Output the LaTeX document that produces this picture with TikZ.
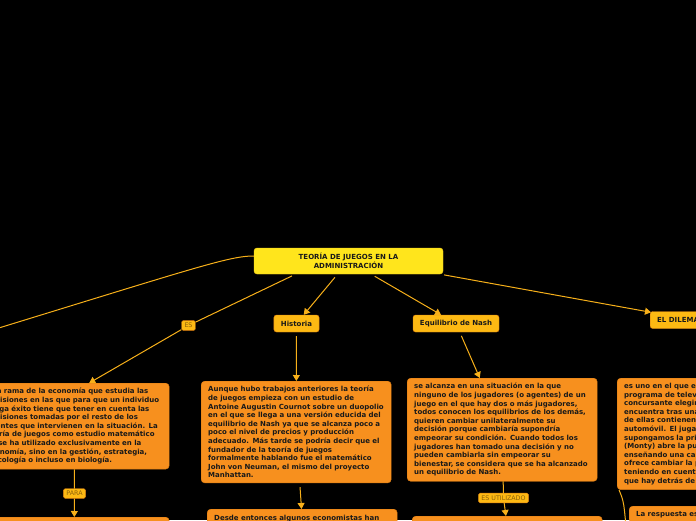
\documentclass[tikz,border=0pt]{standalone}
\usepackage{fontspec}
\setmainfont{DejaVu Sans}
\usetikzlibrary{arrows.meta}
\definecolor{rootcol}{HTML}{FFE51C}
\definecolor{topiccol}{HTML}{FDB913}
\definecolor{notecol}{HTML}{F7901E}
\definecolor{linecol}{HTML}{F7B01A}
\definecolor{lblcol}{HTML}{8A600A}
\definecolor{edgecol}{HTML}{D97A12}

\begin{document}
\begin{tikzpicture}[x=1pt,y=-1pt,
  rootbox/.style={draw=rootcol!80!edgecol,fill=rootcol,rounded corners=3pt,minimum width=189pt,minimum height=26pt,align=center,font=\fontsize{7}{9}\selectfont\bfseries,text=black!90,inner sep=2pt},
  topic/.style={draw=edgecol,fill=topiccol,rounded corners=2.5pt,minimum height=17pt,inner xsep=7pt,font=\fontsize{7}{8.6}\selectfont\bfseries,text=black!90},
  note/.style={draw=edgecol,fill=notecol,rounded corners=3.5pt,text width=176pt,inner xsep=7pt,inner ysep=5pt,align=left,font=\fontsize{7}{8.6}\selectfont\bfseries,text=black!90,anchor=north west},
  lbl/.style={draw=edgecol,fill=topiccol,rounded corners=1.5pt,inner xsep=3pt,inner ysep=2.5pt,font=\fontsize{6.3}{7}\selectfont,text=lblcol},
  conn/.style={draw=linecol,line width=1pt},
  arr/.style={conn,-{Triangle[length=6pt,width=7pt]},shorten <=4pt}]
  \useasboundingbox (0,0) rectangle (696,520);
  \fill[black] (0,0) rectangle (696,520);
  \clip (0,0) rectangle (696,520);

  % centre and first level
  \node[rootbox] (root) at (348.5,261) {TEORÍA DE JUEGOS EN LA\\ADMINISTRACIÓN};
  \node[topic] (hist) at (296.5,323.5) {Historia};
  \node[topic] (nash) at (456,323.5) {Equilibrio de Nash};
  \node[topic,anchor=west] (dilema) at (650,320) {EL DILEMA DE MONTY HALL};

  % texts
  \node[note] (esbox) at (-21,383) {Una rama de la economía que estudia las\\decisiones en las que para que un individuo\\tenga éxito tiene que tener en cuenta las\\decisiones tomadas por el resto de los\\agentes que intervienen en la situación. La\\teoría de juegos como estudio matemático\\no se ha utilizado exclusivamente en la\\economía, sino en la gestión, estrategia,\\psicología o incluso en biología.};
  \node[note] (histtxt) at (201,381) {Aunque hubo trabajos anteriores la teoría\\de juegos empieza con un estudio de\\Antoine Augustin Cournot sobre un duopolio\\en el que se llega a una versión educida del\\equilibrio de Nash ya que se alcanza poco a\\poco el nivel de precios y producción\\adecuado. Más tarde se podría decir que el\\fundador de la teoría de juegos\\formalmente hablando fue el matemático\\John von Neuman, el mismo del proyecto\\Manhattan.};
  \node[note] (nashtxt) at (407,378) {se alcanza en una situación en la que\\ninguno de los jugadores (o agentes) de un\\juego en el que hay dos o más jugadores,\\todos conocen los equilibrios de los demás,\\quieren cambiar unilateralmente su\\decisión porque cambiaría supondría\\empeorar su condición. Cuando todos los\\jugadores han tomado una decisión y no\\pueden cambiarla sin empeorar su\\bienestar, se considera que se ha alcanzado\\un equilibrio de Nash.};
  \node[note] (montytxt) at (617,378) {es uno en el que en un\\programa de televisión\\concursante elegirá\\encuentra tras una\\de ellas contienen\\automóvil. El jugador\\supongamos la primera\\(Monty) abre la puerta\\enseñando una cabra\\ofrece cambiar la puerta\\teniendo en cuenta\\que hay detrás de};

  % lower level
  \node[note] (paratxt) at (-21,517) {\strut};
  \node[note,inner ysep=6pt] (desde) at (207,509) {Desde entonces algunos economistas han};
  \node[note] (usotxt) at (412,516) {\strut};
  \node[note] (resp) at (629,506) {La respuesta es};

  % link labels
  \node[lbl] (es) at (188.5,325.5) {ES};
  \node[lbl] (para) at (74.5,493.5) {PARA};
  \node[lbl] (uso) at (503.5,498) {ES UTILIZADO};

  \coordinate (offleft) at (-60,346);
  \coordinate (offbottom) at (627,540);

  \draw[conn] ([yshift=5pt]root.west) .. controls (228,256) and (195,268) .. (offleft);
  \draw[conn,shorten <=4pt] (root.-166) -- (es);
  \draw[arr,shorten <=0pt] (es) -- ([xshift=15pt]esbox.north);
  \draw[arr] (root) -- (hist);
  \draw[arr] (root) -- (nash);
  \draw[arr] ([xshift=-3pt]root.south east) -- ([xshift=1pt,yshift=-1pt]dilema.north west);
  \draw[arr] (hist) -- (histtxt);
  \draw[arr] (nash) -- (nashtxt);
  \draw[conn] (esbox) -- (para);
  \draw[arr,shorten <=0pt] (para) -- (paratxt);
  \draw[arr] (histtxt) -- (desde);
  \draw[conn] (nashtxt) -- (uso);
  \draw[arr,shorten <=0pt] (uso) -- (usotxt);
  \draw[conn] ([xshift=2pt]montytxt.south west) .. controls (624,502) .. (offbottom);
\end{tikzpicture}
\end{document}
